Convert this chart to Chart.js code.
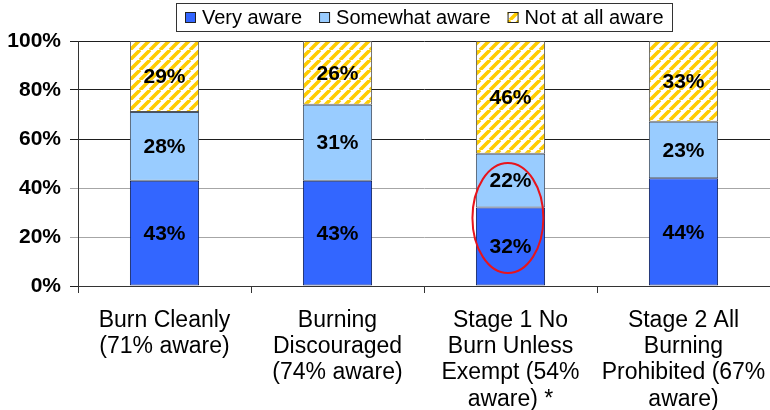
<!DOCTYPE html>
<html>
<head>
<meta charset="utf-8">
<script src="https://cdn.jsdelivr.net/npm/chart.js@4/dist/chart.umd.min.js"></script>
<style>
  html, body { margin: 0; padding: 0; background: #fff; }
  #wrap { width: 770px; height: 410px; }
</style>
</head>
<body>
<div id="wrap"><canvas id="chart" width="770" height="410"></canvas></div>
<script>
// Awareness of each burn-status level
const categories = [
  ['Burn Cleanly', '(71% aware)'],
  ['Burning', 'Discouraged', '(74% aware)'],
  ['Stage 1 No', 'Burn Unless', 'Exempt (54%', 'aware) *'],
  ['Stage 2 All', 'Burning', 'Prohibited (67%', 'aware)']
];
const seriesNames = ['Very aware', 'Somewhat aware', 'Not at all aware'];
const veryAware = [43, 43, 32, 44];
const somewhatAware = [28, 31, 22, 23];
const notAware = [29, 26, 46, 33];
const yTickValues = [0, 20, 40, 60, 80, 100];

// Circled segment on the Stage 1 bar (category span and value span)
const circleCategorySpan = [1.78, 2.19];
const circleValueSpan = [5.3, 50.2];

const FONT = '"Liberation Sans", Arial, Helvetica, sans-serif';

function stripePattern() {
  const s = 10;
  const c = document.createElement('canvas');
  c.width = s; c.height = s;
  const g = c.getContext('2d');
  g.fillStyle = '#ffffff';
  g.fillRect(0, 0, s, s);
  g.strokeStyle = '#FFCC00';
  g.lineWidth = 3.6;
  g.beginPath();
  for (let k = -1; k <= 1; k++) {
    g.moveTo(k * s, s);
    g.lineTo(k * s + s, 0);
  }
  g.stroke();
  return g.createPattern(c, 'repeat');
}
const hatch = stripePattern();

// Percent labels in the middle of each stacked segment
const segmentLabels = {
  id: 'segmentLabels',
  afterDatasetsDraw(chart) {
    const ctx = chart.ctx;
    ctx.save();
    ctx.font = 'bold 21px ' + FONT;
    ctx.fillStyle = '#000';
    ctx.textAlign = 'center';
    ctx.textBaseline = 'middle';
    chart.data.datasets.forEach((ds, i) => {
      chart.getDatasetMeta(i).data.forEach((bar, j) => {
        const p = bar.getProps(['x', 'y', 'base'], true);
        ctx.fillText(ds.data[j] + '%', p.x, (p.y + p.base) / 2 + 1);
      });
    });
    ctx.restore();
  }
};

// Red ellipse highlighting the Stage 1 segments
const highlightEllipse = {
  id: 'highlightEllipse',
  afterDatasetsDraw(chart) {
    const xs = chart.scales.x, ys = chart.scales.y;
    const x1 = xs.getPixelForValue(circleCategorySpan[0]);
    const x2 = xs.getPixelForValue(circleCategorySpan[1]);
    const y1 = ys.getPixelForValue(circleValueSpan[1]);
    const y2 = ys.getPixelForValue(circleValueSpan[0]);
    const ctx = chart.ctx;
    ctx.save();
    ctx.strokeStyle = '#E8141C';
    ctx.lineWidth = 2;
    ctx.beginPath();
    ctx.ellipse((x1 + x2) / 2, (y1 + y2) / 2, (x2 - x1) / 2, (y2 - y1) / 2, 0, 0, Math.PI * 2);
    ctx.stroke();
    ctx.restore();
  }
};

// Boxed legend centred over the plot area
const boxedLegend = {
  id: 'boxedLegend',
  afterDraw(chart) {
    const ctx = chart.ctx;
    const area = chart.chartArea;
    ctx.save();
    ctx.font = '20px ' + FONT;
    const sq = 11, gap = 6, itemGap = 17, padL = 9, padR = 8;
    const ds = chart.data.datasets;
    const widths = ds.map(d => ctx.measureText(d.label).width);
    const total = padL + padR + widths.reduce((a, w) => a + sq + gap + w, 0) + itemGap * (widths.length - 1);
    const x0 = Math.round((area.left + area.right) / 2 - total / 2);
    const top = 3, h = 28, cy = top + h / 2 + 0.5;
    ctx.strokeStyle = '#333';
    ctx.lineWidth = 1;
    ctx.strokeRect(x0 + 0.5, top + 0.5, Math.round(total), h);
    let x = x0 + padL;
    ds.forEach((d, i) => {
      const sy = Math.round(cy - sq / 2);
      ctx.fillStyle = d.backgroundColor;
      ctx.fillRect(x, sy, sq, sq);
      ctx.strokeStyle = '#222';
      ctx.strokeRect(x + 0.5, sy + 0.5, sq - 1, sq - 1);
      ctx.fillStyle = '#000';
      ctx.textAlign = 'left';
      ctx.textBaseline = 'middle';
      ctx.fillText(d.label, x + sq + gap, cy + 1);
      x += sq + gap + widths[i] + itemGap;
    });
    ctx.restore();
  }
};

const strongLine = v => (v >= 60 || v === 0) ? '#1e1e1e' : '#a6a6a6';

new Chart(document.getElementById('chart'), {
  type: 'bar',
  data: {
    labels: categories,
    datasets: [
      { label: seriesNames[0], data: veryAware, backgroundColor: '#3366FF', borderColor: '#0d1f5c' },
      { label: seriesNames[1], data: somewhatAware, backgroundColor: '#99CCFF', borderColor: '#465466' },
      { label: seriesNames[2], data: notAware, backgroundColor: hatch, borderColor: '#555555' }
    ]
  },
  options: {
    responsive: false,
    animation: false,
    layout: { padding: { top: 41, left: 0, right: 0, bottom: 0 } },
    datasets: {
      bar: { barPercentage: 0.4, categoryPercentage: 1, borderWidth: 1, borderSkipped: false }
    },
    plugins: {
      legend: { display: false },
      tooltip: { enabled: false }
    },
    scales: {
      x: {
        stacked: true,
        afterFit(s) { s.height = 124; s.paddingLeft = 0; s.paddingRight = 0; },
        grid: { offset: true, drawOnChartArea: false, drawTicks: true, tickLength: 7, color: '#333' },
        border: { display: true, color: '#333', width: 1 },
        ticks: {
          color: '#000',
          padding: 14,
          maxRotation: 0,
          autoSkip: false,
          font: { family: FONT, size: 23, lineHeight: 1.15 }
        }
      },
      y: {
        stacked: true,
        min: 0,
        max: 100,
        afterFit(s) { s.width = 78; s.paddingTop = 0; s.paddingBottom = 0; },
        afterBuildTicks(s) { s.ticks = yTickValues.map(v => ({ value: v })); },
        grid: {
          color: c => strongLine(c.tick.value),
          tickLength: 8,
          drawTicks: true
        },
        border: { display: true, color: '#333', width: 1 },
        ticks: {
          color: '#000',
          padding: 9,
          font: { family: FONT, size: 21, weight: 'bold' },
          callback: v => v + '%'
        }
      }
    }
  },
  plugins: [segmentLabels, highlightEllipse, boxedLegend]
});
</script>
</body>
</html>
